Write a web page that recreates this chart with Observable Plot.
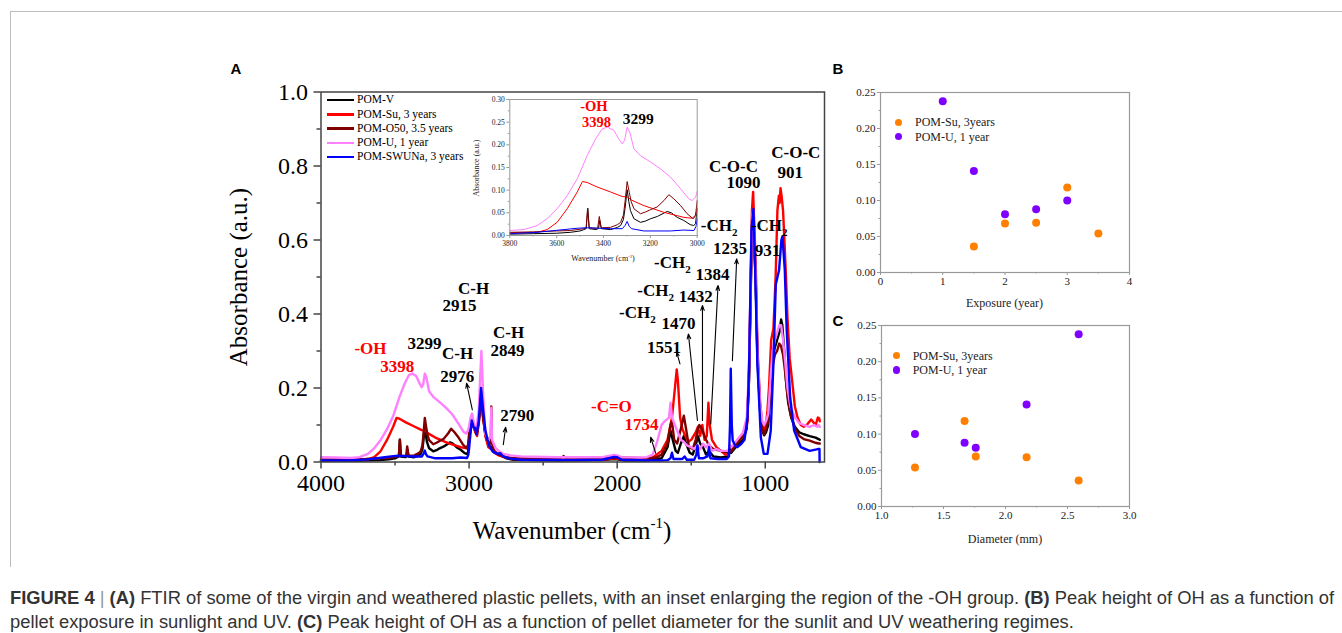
<!DOCTYPE html>
<html><head><meta charset="utf-8">
<script src="https://cdn.jsdelivr.net/npm/d3@7"></script>
<script src="https://cdn.jsdelivr.net/npm/@observablehq/plot@0.6"></script>
<style>
body{margin:0;background:#fff;}
#root{position:relative;width:1342px;height:633px;overflow:hidden;font-family:"Liberation Serif","Times New Roman",serif;color:#000;}
.c{position:absolute;transform:translate(-50%,-50%);white-space:nowrap;line-height:1;}
.r{position:absolute;transform:translate(-50%,-50%) rotate(-90deg);white-space:nowrap;line-height:1;}
sup{font-size:60%;vertical-align:0.7em;line-height:0;}
.panel{position:absolute;font-family:"Liberation Sans",Arial,sans-serif;font-weight:bold;font-size:15px;transform:translate(-50%,-50%);line-height:1;}
.leg{position:absolute;display:flex;align-items:center;white-space:nowrap;line-height:1;}
</style></head>
<body><div id="root"></div>
<script>
// ---------- data: FTIR spectra [wavenumber, absorbance] ----------
const pomV = [[4000,0.003],[3900,0.003],[3800,0.003],[3700,0.004],[3600,0.005],[3541,0.007],[3500,0.01],[3484,0.013],[3474,0.015],[3467,0.06],[3461,0.015],[3430,0.013],[3421,0.016],[3416,0.033],[3409,0.015],[3370,0.013],[3340,0.018],[3327,0.022],[3315,0.035],[3308,0.06],[3299,0.101],[3292,0.075],[3285,0.055],[3270,0.037],[3242,0.029],[3220,0.032],[3199,0.037],[3170,0.042],[3140,0.05],[3128,0.053],[3110,0.05],[3085,0.04],[3057,0.033],[3030,0.024],[3015,0.022],[3007,0.026],[3000,0.059],[2990,0.09],[2982,0.108],[2970,0.095],[2960,0.085],[2948,0.075],[2935,0.11],[2919,0.18],[2905,0.12],[2890,0.075],[2870,0.045],[2850,0.04],[2830,0.028],[2800,0.02],[2750,0.01],[2700,0.006],[2400,0.004],[2100,0.005],[2020,0.008],[2000,0.007],[1950,0.004],[1800,0.004],[1700,0.01],[1660,0.04],[1640,0.085],[1625,0.06],[1605,0.03],[1590,0.025],[1570,0.05],[1550,0.07],[1535,0.05],[1510,0.025],[1490,0.02],[1470,0.045],[1455,0.07],[1440,0.05],[1420,0.04],[1400,0.02],[1380,0.03],[1350,0.015],[1300,0.012],[1250,0.015],[1238,0.03],[1230,0.025],[1200,0.04],[1150,0.06],[1125,0.09],[1110,0.22],[1100,0.42],[1090,0.65],[1082,0.68],[1075,0.6],[1064,0.48],[1053,0.28],[1035,0.14],[1020,0.085],[1008,0.072],[995,0.08],[980,0.1],[965,0.2],[950,0.28],[935,0.31],[920,0.33],[905,0.35],[893,0.385],[885,0.37],[872,0.3],[860,0.22],[845,0.16],[825,0.12],[800,0.095],[770,0.08],[740,0.075],[700,0.07],[660,0.066],[640,0.062],[632,0.06]];
const pomSu = [[4000,0.005],[3800,0.006],[3683,0.007],[3641,0.013],[3598,0.029],[3555,0.059],[3512,0.096],[3490,0.119],[3470,0.117],[3427,0.107],[3370,0.096],[3320,0.086],[3299,0.085],[3280,0.078],[3228,0.066],[3142,0.051],[3057,0.04],[3021,0.038],[3007,0.045],[3000,0.06],[2990,0.09],[2980,0.105],[2970,0.095],[2958,0.08],[2946,0.07],[2933,0.11],[2918,0.19],[2905,0.12],[2890,0.07],[2870,0.04],[2850,0.035],[2830,0.025],[2800,0.018],[2750,0.012],[2700,0.008],[2400,0.006],[2100,0.006],[2020,0.01],[1990,0.008],[1900,0.006],[1800,0.008],[1760,0.012],[1734,0.02],[1700,0.03],[1660,0.06],[1630,0.12],[1610,0.2],[1598,0.25],[1590,0.22],[1575,0.12],[1560,0.09],[1540,0.07],[1520,0.055],[1500,0.06],[1470,0.08],[1455,0.095],[1440,0.07],[1425,0.1],[1410,0.06],[1395,0.07],[1384,0.16],[1375,0.1],[1360,0.06],[1330,0.04],[1300,0.03],[1270,0.02],[1250,0.02],[1238,0.035],[1230,0.03],[1200,0.05],[1150,0.07],[1130,0.09],[1120,0.11],[1110,0.25],[1100,0.45],[1090,0.68],[1082,0.73],[1075,0.65],[1064,0.53],[1053,0.31],[1035,0.16],[1020,0.1],[1008,0.085],[995,0.1],[985,0.14],[975,0.2],[960,0.33],[945,0.36],[930,0.5],[918,0.68],[908,0.72],[903,0.7],[897,0.74],[890,0.72],[880,0.68],[873,0.62],[860,0.5],[850,0.39],[835,0.28],[816,0.21],[800,0.15],[782,0.12],[760,0.1],[740,0.095],[720,0.1],[690,0.115],[660,0.1],[645,0.12],[636,0.118],[632,0.11]];
const pomO50 = [[4000,0.007],[3800,0.007],[3700,0.008],[3600,0.01],[3541,0.011],[3484,0.015],[3474,0.017],[3468,0.06],[3461,0.017],[3425,0.016],[3418,0.042],[3410,0.017],[3370,0.018],[3340,0.024],[3327,0.029],[3315,0.045],[3308,0.075],[3299,0.119],[3290,0.095],[3282,0.075],[3270,0.059],[3242,0.048],[3220,0.052],[3199,0.057],[3171,0.063],[3142,0.077],[3121,0.09],[3100,0.081],[3071,0.066],[3043,0.048],[3017,0.037],[3007,0.044],[3000,0.077],[2990,0.095],[2980,0.108],[2970,0.1],[2958,0.09],[2946,0.08],[2933,0.115],[2918,0.17],[2905,0.12],[2888,0.07],[2865,0.05],[2853,0.05],[2850,0.15],[2846,0.05],[2830,0.03],[2800,0.02],[2750,0.013],[2700,0.01],[2380,0.01],[2362,0.016],[2350,0.01],[2100,0.01],[2000,0.012],[1800,0.01],[1740,0.012],[1700,0.02],[1660,0.05],[1640,0.1],[1630,0.11],[1615,0.06],[1595,0.05],[1570,0.09],[1550,0.125],[1535,0.09],[1515,0.04],[1490,0.035],[1470,0.06],[1455,0.09],[1445,0.1],[1430,0.09],[1415,0.075],[1400,0.06],[1380,0.045],[1350,0.035],[1300,0.03],[1250,0.025],[1238,0.035],[1230,0.03],[1200,0.045],[1150,0.07],[1125,0.1],[1110,0.22],[1100,0.42],[1090,0.64],[1082,0.66],[1075,0.6],[1064,0.48],[1053,0.29],[1035,0.15],[1020,0.09],[1008,0.075],[995,0.09],[980,0.11],[965,0.2],[950,0.26],[935,0.29],[920,0.3],[906,0.32],[895,0.315],[880,0.29],[865,0.24],[850,0.18],[830,0.13],[800,0.09],[770,0.07],[740,0.062],[700,0.058],[660,0.052],[640,0.05],[632,0.05]];
const pomU = [[4000,0.013],[3900,0.012],[3800,0.011],[3740,0.013],[3683,0.022],[3641,0.037],[3598,0.059],[3555,0.088],[3512,0.125],[3470,0.176],[3434,0.213],[3406,0.235],[3384,0.239],[3356,0.232],[3335,0.213],[3320,0.202],[3310,0.21],[3299,0.239],[3288,0.228],[3270,0.191],[3242,0.176],[3199,0.162],[3157,0.147],[3114,0.129],[3071,0.103],[3036,0.081],[3021,0.077],[3007,0.085],[3000,0.097],[2990,0.12],[2980,0.131],[2965,0.1],[2950,0.093],[2935,0.14],[2917,0.3],[2905,0.18],[2890,0.075],[2870,0.06],[2855,0.07],[2850,0.147],[2845,0.06],[2822,0.038],[2800,0.03],[2770,0.022],[2720,0.018],[2650,0.015],[2400,0.013],[2100,0.013],[2020,0.019],[2000,0.018],[1970,0.013],[1850,0.012],[1800,0.013],[1760,0.02],[1730,0.055],[1700,0.1],[1680,0.11],[1650,0.12],[1640,0.16],[1630,0.12],[1610,0.1],[1590,0.08],[1570,0.06],[1550,0.055],[1530,0.045],[1500,0.04],[1480,0.035],[1460,0.045],[1440,0.035],[1420,0.05],[1400,0.04],[1380,0.05],[1360,0.03],[1330,0.035],[1300,0.03],[1250,0.03],[1238,0.045],[1230,0.04],[1200,0.055],[1150,0.08],[1125,0.12],[1110,0.25],[1100,0.45],[1090,0.66],[1082,0.68],[1075,0.62],[1064,0.5],[1053,0.3],[1035,0.16],[1020,0.11],[1008,0.1],[995,0.11],[980,0.13],[965,0.22],[950,0.3],[935,0.33],[920,0.35],[905,0.37],[893,0.37],[880,0.33],[865,0.27],[850,0.2],[830,0.15],[800,0.12],[770,0.105],[740,0.1],[700,0.095],[670,0.1],[650,0.095],[640,0.1],[632,0.095]];
const pomSWUNa = [[4000,0.004],[3800,0.004],[3683,0.007],[3569,0.013],[3512,0.016],[3477,0.017],[3420,0.016],[3370,0.015],[3320,0.015],[3308,0.022],[3299,0.031],[3290,0.02],[3280,0.015],[3228,0.01],[3114,0.01],[3057,0.012],[3014,0.011],[3005,0.02],[3000,0.037],[2990,0.08],[2982,0.112],[2970,0.095],[2960,0.092],[2950,0.075],[2935,0.11],[2919,0.2],[2905,0.14],[2890,0.085],[2875,0.06],[2860,0.04],[2840,0.028],[2810,0.022],[2790,0.024],[2770,0.015],[2720,0.009],[2650,0.006],[2300,0.005],[2100,0.006],[2020,0.014],[2000,0.013],[1970,0.006],[1800,0.004],[1700,0.004],[1660,0.005],[1640,0.01],[1630,0.025],[1620,0.008],[1560,0.008],[1545,0.015],[1530,0.006],[1480,0.006],[1465,0.02],[1458,0.045],[1448,0.01],[1420,0.01],[1390,0.015],[1380,0.04],[1370,0.01],[1320,0.008],[1260,0.008],[1245,0.015],[1238,0.1],[1233,0.252],[1226,0.1],[1220,0.058],[1200,0.042],[1188,0.04],[1160,0.05],[1140,0.06],[1120,0.12],[1109,0.265],[1093,0.626],[1080,0.684],[1069,0.536],[1053,0.265],[1030,0.067],[1010,0.022],[985,0.022],[963,0.085],[945,0.265],[929,0.48],[907,0.518],[891,0.6],[884,0.61],[868,0.518],[855,0.355],[832,0.175],[805,0.085],[760,0.04],[700,0.03],[645,0.035],[634,0.035],[633,0]];

const seriesNames = ["POM-V","POM-Su, 3 years","POM-O50, 3.5 years","POM-U, 1 year","POM-SWUNa, 3 years"];
const seriesColors = ["#000000","#ff0000","#800000","#ff80ff","#0000ff"];

// axis ticks
const mainXTicks = [4000,3000,2000,1000];
const mainXMinor = [3500,2500,1500];
const mainYTicks = [0,0.2,0.4,0.6,0.8,1.0];
const mainYMinor = [0.1,0.3,0.5,0.7,0.9];
const insetXTicks = [3800,3600,3400,3200,3000];
const insetXMinor = [3700,3500,3300,3100];
const insetYTicks = [0,0.05,0.1,0.15,0.2,0.25,0.3];
const insetYMinor = [0.025,0.075,0.125,0.175,0.225,0.275];

// peak annotations [text, wavenumber, absorbance]
const redLabels = [["-OH",3666,0.307],["3398",3485,0.259],["-C=O",2039,0.15],["1734",1836,0.101]];
const blackLabels = [["3299",3301,0.321],["C-H",3078,0.294],["2976",3080,0.231],["C-H",2970,0.469],["2915",3064,0.423],["C-H",2733,0.351],["2849",2740,0.301],["2790",2674,0.126],["C-O-C",1215,0.799],["1090",1147,0.754],["C-O-C",794,0.837],["901",832,0.783],["-CH2",1312,0.639],["1235",1238,0.576],["-CH2",974,0.639],["931",985,0.572],["-CH2",1627,0.54],["1384",1357,0.507],["-CH2",1740,0.464],["1432",1470,0.447],["-CH2",1864,0.405],["1470",1586,0.375],["1551",1684,0.309]];
// arrows [w from, a from, w to, a to]
const arrows = [[2978,0.141,3017,0.213],[2769,0.047,2753,0.094],[1740,0.024,1774,0.067],[1576,0.265,1598,0.297],[1458,0.112,1519,0.346],[1424,0.112,1424,0.423],[1368,0.103,1319,0.477],[1222,0.274,1193,0.549]];
const insetRedLabels = [["-OH",3441,0.2846],["3398",3430,0.2493]];
const insetBlackLabels = [["3299",3252,0.2574]];

// panels B & C
const suExposure = [1.5,2,2.5,3,3.5];
const suDiameter = [2.59,2.17,1.76,1.67,1.27];
const suPeak = [0.036,0.068,0.069,0.118,0.054];
const uExposure = [1,1.5,2,2.5,3];
const uDiameter = [2.59,2.17,1.76,1.67,1.27];
const uPeak = [0.238,0.141,0.081,0.088,0.100];
const scatterNames = ["POM-Su, 3years","POM-U, 1 year"];
const scatterColors = ["#ff8000","#8000ff"];
const bXTicks=[0,1,2,3,4], bXMinor=[0.5,1.5,2.5,3.5];
const bcYTicks=[0,0.05,0.1,0.15,0.2,0.25], bcYMinor=[0.025,0.075,0.125,0.175,0.225];
const cXTicks=[1,1.5,2,2.5,3], cXMinor=[1.25,1.75,2.25,2.75];

// ---------- build ----------
const root = document.getElementById("root");
const series = [pomV,pomSu,pomO50,pomU,pomSWUNa];
const rows = series.flatMap((arr,i)=>arr.map(([w,a])=>({s:seriesNames[i],w,a})));
const insetRows = rows.filter(d=>d.w<=3800 && d.w>=3000);
const lab = arr => arr.map(([t,w,a])=>({t,w,a}));
const lab0 = arr => arr.map(([w1,a1,w2,a2])=>({w1,a1,w2,a2}));
const place = (el,l,t)=>{el.style.position="absolute";el.style.left=l+"px";el.style.top=t+"px";root.appendChild(el);return el;};
const fmt = d3.format("d");

const main = Plot.plot({
  width:620,height:470,marginLeft:100.5,marginRight:16,marginTop:31.5,marginBottom:68.5,
  style:{fontFamily:"Liberation Serif",background:"transparent",overflow:"visible"},
  x:{domain:[4000,600],label:null},y:{domain:[0,1],label:null},
  color:{domain:seriesNames,range:seriesColors},
  marks:[
    Plot.line(rows,{x:"w",y:"a",stroke:"s",z:"s",strokeWidth:2.4}),
    Plot.frame({stroke:"#444",strokeWidth:1.5}),
    Plot.axisX({ticks:mainXTicks,tickSize:7,tickPadding:5,fontSize:24,tickFormat:fmt,stroke:"#444",strokeWidth:1.5,fill:"#000",label:null}),
    Plot.axisX({ticks:mainXMinor,tickSize:4,tickFormat:()=>"",stroke:"#444",strokeWidth:1.5,label:null}),
    Plot.axisY({ticks:mainYTicks,tickSize:7,tickPadding:6,fontSize:24,tickFormat:d3.format(".1f"),stroke:"#444",strokeWidth:1.5,fill:"#000",label:null}),
    Plot.axisY({ticks:mainYMinor,tickSize:4,tickFormat:()=>"",stroke:"#444",strokeWidth:1.5,label:null}),
    Plot.arrow(lab0(arrows),{x1:"w1",y1:"a1",x2:"w2",y2:"a2",stroke:"#000",strokeWidth:1.1,headLength:7,headAngle:40}),
    Plot.text(lab(redLabels),{x:"w",y:"a",text:"t",fill:"#ff0000",fontSize:17,fontWeight:"bold",textAnchor:"middle",lineAnchor:"middle"}),
    Plot.text(lab(blackLabels),{x:"w",y:"a",text:"t",fill:"#000",fontSize:17,fontWeight:"bold",textAnchor:"middle",lineAnchor:"middle"})
  ]
});
main.querySelectorAll("text").forEach(t=>{
  if(t.textContent==="-CH2"){t.textContent="-CH";const s=document.createElementNS("http://www.w3.org/2000/svg","tspan");s.setAttribute("font-size","11");s.setAttribute("dy","5");s.textContent="2";t.appendChild(s);}
});
place(main,220,60);

const inset = Plot.plot({
  width:250,height:185,marginLeft:49.3,marginRight:13.3,marginTop:9,marginBottom:40,
  style:{fontFamily:"Liberation Serif",background:"transparent",overflow:"visible"},
  x:{domain:[3800,3000],label:null},y:{domain:[0,0.3],label:null},
  color:{domain:seriesNames,range:seriesColors},
  marks:[
    Plot.frame({fill:"#fff",stroke:"none"}),
    Plot.line(insetRows,{x:"w",y:"a",stroke:"s",z:"s",strokeWidth:1}),
    Plot.frame({stroke:"#999",strokeWidth:1}),
    Plot.axisX({ticks:insetXTicks,tickSize:3,tickPadding:2,fontSize:7.5,tickFormat:fmt,stroke:"#999",fill:"#222",label:null}),
    Plot.axisX({ticks:insetXMinor,tickSize:1.5,tickFormat:()=>"",stroke:"#999",label:null}),
    Plot.axisY({ticks:insetYTicks,tickSize:3,tickPadding:2,fontSize:7.5,tickFormat:d3.format(".2f"),stroke:"#999",fill:"#222",label:null}),
    Plot.axisY({ticks:insetYMinor,tickSize:1.5,tickFormat:()=>"",stroke:"#999",label:null}),
    Plot.text(lab(insetRedLabels),{x:"w",y:"a",text:"t",fill:"#ff0000",fontSize:14.5,fontWeight:"bold",textAnchor:"middle",lineAnchor:"middle"}),
    Plot.text(lab(insetBlackLabels),{x:"w",y:"a",text:"t",fill:"#000",fontSize:15.5,fontWeight:"bold",textAnchor:"middle",lineAnchor:"middle"})
  ]
});
place(inset,460,90);

function scatter(xs1,xs2,xDomain,xT,xM,xFmt,w,h,ml,mr,mt,mb){
  return Plot.plot({
    width:w,height:h,marginLeft:ml,marginRight:mr,marginTop:mt,marginBottom:mb,
    style:{fontFamily:"Liberation Serif",background:"transparent",overflow:"visible"},
    x:{domain:xDomain,label:null},y:{domain:[0,0.25],label:null},
    marks:[
      Plot.frame({stroke:"#999",strokeWidth:1.2}),
      Plot.axisX({ticks:xT,tickSize:3,tickPadding:2,fontSize:11,tickFormat:xFmt,stroke:"#999",fill:"#222",label:null}),
      Plot.axisX({ticks:xM,tickSize:1.5,tickFormat:()=>"",stroke:"#999",label:null}),
      Plot.axisY({ticks:bcYTicks,tickSize:3,tickPadding:2,fontSize:11,tickFormat:d3.format(".2f"),stroke:"#999",fill:"#222",label:null}),
      Plot.axisY({ticks:bcYMinor,tickSize:1.5,tickFormat:()=>"",stroke:"#999",label:null}),
      Plot.dot(suPeak.map((v,i)=>({x:xs1[i],y:v})),{x:"x",y:"y",r:4,fill:scatterColors[0]}),
      Plot.dot(uPeak.map((v,i)=>({x:xs2[i],y:v})),{x:"x",y:"y",r:4,fill:scatterColors[1]})
    ]
  });
}
place(scatter(suExposure,uExposure,[0,4],bXTicks,bXMinor,fmt,310,240,50,11,12,48),830,80);
place(scatter(suDiameter,uDiameter,[1,3],cXTicks,cXMinor,d3.format(".1f"),310,230,51,11,10,39),830,315);

// ---------- text / legends ----------
function html(cls,x,y,inner,style){const d=document.createElement("div");d.className=cls;d.style.left=x+"px";d.style.top=y+"px";d.innerHTML=inner;if(style)d.style.cssText+=style;root.appendChild(d);return d;}
html("c",572,530,"Wavenumber (cm<sup>-1</sup>)","font-size:25px;");
html("r",237.5,276.5,"Absorbance (a.u.)","font-size:25px;");
html("c",603,259,"Wavenumber (cm<sup>-1</sup>)","font-size:8px;color:#222;");
html("r",477,168,"Absorbance (a.u.)","font-size:8px;color:#222;");
html("c",1004.5,303,"Exposure (year)","font-size:12px;color:#222;");
html("c",1005,539,"Diameter (mm)","font-size:12px;color:#222;");
html("panel",236,68,"A");
html("panel",838,68,"B");
html("panel",838,320,"C");

seriesNames.forEach((n,i)=>{
  const y=100+i*14.3;
  html("leg",326.5,y-7,`<span style="display:inline-block;width:27px;height:2.5px;background:${seriesColors[i]};margin-right:3.5px"></span><span style="font-size:11.5px">${n}</span>`,"height:14px;");
});
[[122.3,898.3,915],[136.7,898.3,915]].forEach(([y,cx,tx],i)=>{
  html("leg",cx-3.8,y-7,`<span style="display:inline-block;width:7.6px;height:7.6px;border-radius:50%;background:${scatterColors[i]};margin-right:${tx-cx-3.8}px"></span><span style="font-size:12px;color:#222">${scatterNames[i]}</span>`,"height:14px;");
});
[[355.7,896.7,912.7],[370,896.7,912.7]].forEach(([y,cx,tx],i)=>{
  html("leg",cx-3.8,y-7,`<span style="display:inline-block;width:7.6px;height:7.6px;border-radius:50%;background:${scatterColors[i]};margin-right:${tx-cx-3.8}px"></span><span style="font-size:12px;color:#222">${scatterNames[i]}</span>`,"height:14px;");
});

// outer frame
const fr=document.createElement("div");fr.style.cssText="position:absolute;left:9.5px;top:11px;width:1340px;height:555px;border-top:1.5px solid #bdbdbd;border-left:1.5px solid #bdbdbd;";root.appendChild(fr);

// caption
const cap=document.createElement("div");
cap.style.cssText="position:absolute;left:10px;top:586px;font-family:'Liberation Sans',Arial,sans-serif;font-size:16px;line-height:24px;color:#333;white-space:nowrap;";
cap.innerHTML='<span id="l1"><b>FIGURE 4</b> <span style="color:#999">|</span> <b>(A)</b> FTIR of some of the virgin and weathered plastic pellets, with an inset enlarging the region of the -OH group. <b>(B)</b> Peak height of OH as a function of</span><br><span>pellet exposure in sunlight and UV. <b>(C)</b> Peak height of OH as a function of pellet diameter for the sunlit and UV weathering regimes.</span>';
root.appendChild(cap);
const w1=document.getElementById("l1").getBoundingClientRect().width;
cap.style.fontSize=(16*1325/w1)+"px";
</script></body></html>
